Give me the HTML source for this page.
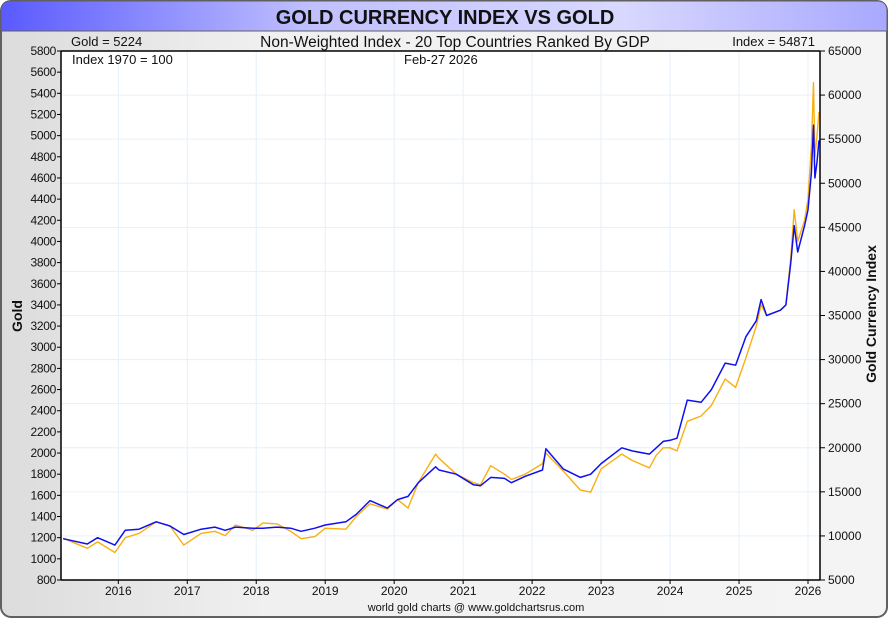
<!DOCTYPE html>
<html><head><meta charset="utf-8"><style>
html,body{margin:0;padding:0;background:#fff;}
svg{display:block;font-family:"Liberation Sans",Arial,sans-serif;}
</style></head><body>
<svg id="chart" width="890" height="620" viewBox="0 0 890 620">
<defs>
<linearGradient id="bg" x1="0" x2="1" y1="0" y2="0"><stop offset="0" stop-color="#dcdcdc"/><stop offset="0.3" stop-color="#f0f0f0"/><stop offset="1" stop-color="#f4f4f4"/></linearGradient>
<linearGradient id="tb" x1="0" x2="1" y1="0" y2="0"><stop offset="0" stop-color="#5a5aff"/><stop offset="0.35" stop-color="#c0c0ff"/><stop offset="0.7" stop-color="#d8d8ff"/><stop offset="1" stop-color="#a8a8ff"/></linearGradient>
</defs>
<rect x="1" y="1" width="886" height="616" rx="10" fill="url(#bg)" stroke="#606060" stroke-width="2"/>
<path d="M11,1 H877 Q887,1 887,11 V31 H1 V11 Q1,1 11,1 Z" fill="url(#tb)" stroke="#606060" stroke-width="1"/>
<text x="445" y="24" text-anchor="middle" font-size="20" font-weight="bold" fill="#111">GOLD CURRENCY INDEX VS GOLD</text>
<text x="71" y="46" font-size="13" fill="#111">Gold = 5224</text>
<text x="455" y="47" text-anchor="middle" font-size="15.5" fill="#111">Non-Weighted Index - 20 Top Countries Ranked By GDP</text>
<text x="815" y="46" text-anchor="end" font-size="13" fill="#111">Index = 54871</text>
<rect x="61" y="51" width="759" height="529" fill="#fff"/>
<g id="grid"></g>
<g id="series"></g>
<line x1="61" y1="51" x2="61" y2="580" stroke="#000" stroke-width="1.5"/>
<line x1="820" y1="51" x2="820" y2="580" stroke="#000" stroke-width="1.5"/>
<line x1="61" y1="580" x2="820" y2="580" stroke="#000" stroke-width="1.5"/>
<line x1="61" y1="51" x2="820" y2="51" stroke="#000" stroke-width="1.5"/>
<g id="axes" font-size="12" fill="#111"></g>
<text x="72" y="64" font-size="13" fill="#111">Index 1970 = 100</text>
<text x="404" y="64" font-size="13" fill="#111">Feb-27  2026</text>
<text transform="translate(22,316) rotate(-90)" text-anchor="middle" font-size="14" font-weight="bold" fill="#111">Gold</text>
<text transform="translate(876,314) rotate(-90)" text-anchor="middle" font-size="14" font-weight="bold" fill="#111">Gold Currency Index</text>
<text x="476" y="611" text-anchor="middle" font-size="11" fill="#111">world gold charts @ www.goldchartsrus.com</text>
</svg>
<script>
const years = [2015.2,2015.55,2015.7,2015.95,2016.1,2016.3,2016.55,2016.75,2016.95,2017.2,2017.4,2017.55,2017.7,2017.95,2018.1,2018.3,2018.5,2018.65,2018.85,2019.0,2019.3,2019.45,2019.65,2019.9,2020.05,2020.2,2020.35,2020.6,2020.65,2020.9,2021.15,2021.25,2021.4,2021.6,2021.7,2021.9,2022.15,2022.2,2022.45,2022.7,2022.85,2023.0,2023.3,2023.45,2023.7,2023.8,2023.9,2024.0,2024.1,2024.25,2024.45,2024.6,2024.8,2024.95,2025.1,2025.25,2025.32,2025.4,2025.6,2025.68,2025.75,2025.8,2025.85,2025.95,2026.0,2026.05,2026.08,2026.1,2026.13,2026.16];
const goldPrices = [1195,1100,1160,1060,1200,1240,1350,1310,1130,1240,1260,1220,1320,1270,1340,1330,1260,1190,1210,1290,1280,1400,1520,1470,1560,1480,1720,1990,1950,1800,1720,1700,1880,1800,1750,1800,1900,2000,1830,1650,1630,1850,1990,1930,1860,1980,2050,2050,2020,2300,2350,2450,2700,2620,2900,3200,3400,3300,3350,3400,3850,4300,4000,4200,4400,4900,5500,4800,5000,5224];
const indexValues = [9680,9080,9800,8960,10640,10760,11600,11120,10160,10760,11000,10640,11000,10880,10880,11000,10880,10520,10880,11240,11600,12440,14000,13160,14120,14480,16040,17840,17480,17000,15800,15680,16640,16520,16040,16760,17480,19880,17600,16640,17000,18200,20000,19640,19280,20000,20720,20840,21080,25400,25160,26600,29600,29360,32600,34400,36800,35000,35600,36200,41000,45200,42200,45200,47000,51200,56600,50600,52400,54871];
const goldTicks = [800,1000,1200,1400,1600,1800,2000,2200,2400,2600,2800,3000,3200,3400,3600,3800,4000,4200,4400,4600,4800,5000,5200,5400,5600,5800];
const indexTicks = [5000,10000,15000,20000,25000,30000,35000,40000,45000,50000,55000,60000,65000];
const yearTicks = [2016,2017,2018,2019,2020,2021,2022,2023,2024,2025,2026];

const NS="http://www.w3.org/2000/svg";
const X0=61,X1=820,Y0=51,Y1=580;
const xs=y=>118.3+(y-2016)*68.97;
const yGold=v=>Y1-(v-800)/(5800-800)*(Y1-Y0);
const yIdx=v=>Y1-(v-5000)/(65000-5000)*(Y1-Y0);
function mk(tag,attrs,parent){const e=document.createElementNS(NS,tag);for(const k in attrs)e.setAttribute(k,attrs[k]);parent.appendChild(e);return e;}
const grid=document.getElementById('grid'),axes=document.getElementById('axes'),series=document.getElementById('series');
yearTicks.forEach(y=>{
  const x=xs(y);
  const g=mk('line',{x1:x,x2:x,y1:Y0,y2:Y1,stroke:'#e6f0f8','stroke-width':1},grid);
  
  
  mk('line',{x1:x,x2:x,y1:Y1,y2:Y1+4,stroke:'#000'},axes);
  const t=mk('text',{x:x,y:595,'text-anchor':'middle','font-size':12},axes);
  t.textContent=y;
  
  
});
indexTicks.forEach(v=>{
  const y=yIdx(v);
  if(v>5000&&v<65000){const g=mk('line',{x1:X0,x2:X1,y1:y,y2:y,stroke:'#e6f0f8','stroke-width':1},grid);
  
  }
  mk('line',{x1:X1,x2:X1+5,y1:y,y2:y,stroke:'#000'},axes);
  const t=mk('text',{x:X1+8,y:y+4,'font-size':12},axes);
  t.textContent=v;
  
  
});
goldTicks.forEach(v=>{
  const y=yGold(v);
  mk('line',{x1:X0-4,x2:X0,y1:y,y2:y,stroke:'#000'},axes);
  const t=mk('text',{x:X0-5,y:y+4,'text-anchor':'end','font-size':12,'letter-spacing':'-0.3'},axes);
  t.textContent=v;
  
  
});
const po=mk('polyline',{points:years.map((y,i)=>xs(y).toFixed(1)+','+yGold(goldPrices[i]).toFixed(1)).join(' '),fill:'none',stroke:'#f8b010','stroke-width':1.4,'stroke-linejoin':'round'},series);


const pb=mk('polyline',{points:years.map((y,i)=>xs(y).toFixed(1)+','+yIdx(indexValues[i]).toFixed(1)).join(' '),fill:'none',stroke:'#1010ee','stroke-width':1.5,'stroke-linejoin':'round'},series);


</script>
</body></html>
